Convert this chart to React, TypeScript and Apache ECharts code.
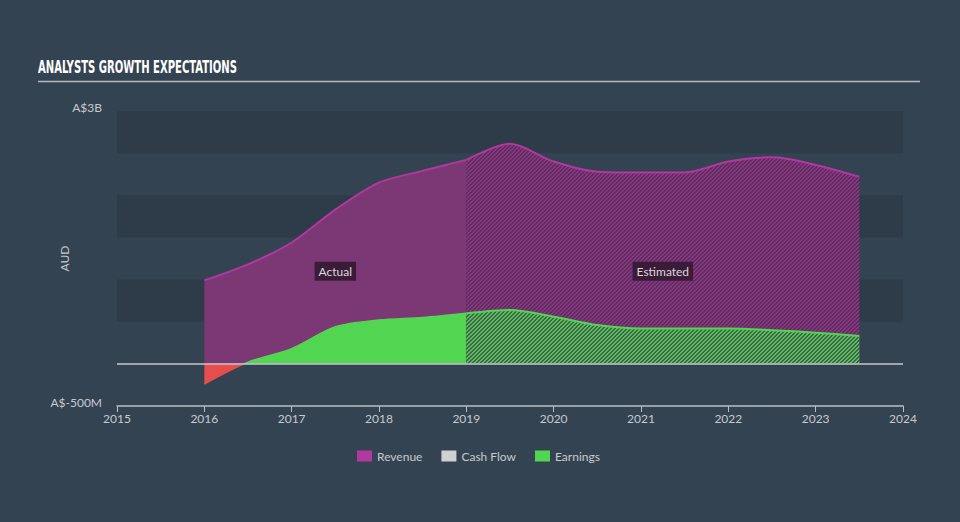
import React, { useEffect, useRef } from "react";
import * as echarts from "echarts";

// ---- data (values in A$ billions) ----
const actualYears = [2016, 2016.5, 2017, 2017.5, 2018, 2018.5, 2019];
const revenueActual = [0.99, 1.18, 1.44, 1.83, 2.15, 2.29, 2.42];
const earningsActual = [-0.24, 0.02, 0.18, 0.44, 0.52, 0.55, 0.6];

const estimateYears = [2019, 2019.5, 2020, 2020.5, 2021, 2021.5, 2022, 2022.5, 2023, 2023.5];
const revenueEstimate = [2.42, 2.61, 2.4, 2.28, 2.27, 2.27, 2.4, 2.45, 2.36, 2.22];
const earningsEstimate = [0.6, 0.64, 0.56, 0.46, 0.42, 0.42, 0.42, 0.4, 0.37, 0.33];

const legendNames = ["Revenue", "Cash Flow", "Earnings"];
const regionLabels = [
  { text: "Actual", year: 2017.5, value: 1.1 },
  { text: "Estimated", year: 2021.25, value: 1.1 },
];
const titleText = "ANALYSTS GROWTH EXPECTATIONS";

const COLORS = {
  bg: "#344352",
  band: "#2e3b49",
  revenueLine: "#b0389f",
  revenueFill: "#7b3874",
  earnings: "#52d652",
  negative: "#e84d4d",
  cashFlow: "#d0d0d0",
  text: "#c5cad0",
  axis: "#b9bfc6",
};

function pairs(xs: number[], ys: number[]) {
  return xs.map((x, i) => [x, ys[i]]);
}

function makePattern(bg: string, fg: string) {
  const c = document.createElement("canvas");
  c.width = 8;
  c.height = 8;
  const ctx = c.getContext("2d")!;
  ctx.fillStyle = bg;
  ctx.fillRect(0, 0, 8, 8);
  ctx.fillStyle = fg;
  for (let x = 0; x < 8; x++) {
    for (let y = 0; y < 8; y++) {
      if ((x + y) % 4 < 2) ctx.fillRect(x, y, 1, 1);
    }
  }
  return c;
}

export default function App() {
  const ref = useRef<HTMLDivElement>(null);
  useEffect(() => {
    document.body.style.margin = "0";
    const chart = echarts.init(ref.current!, null, { renderer: "svg" });

    const titleFont = 'bold 18px "DejaVu Sans Condensed"';
    const mc = document.createElement("canvas").getContext("2d")!;
    mc.font = titleFont;
    const tw = mc.measureText(titleText).width || 300;
    const titleScale = 199 / tw;

    const eMax = Math.max(...earningsActual);
    const eMin = Math.min(...earningsActual);
    const zeroOff = eMax / (eMax - eMin);
    const earnGrad = new echarts.graphic.LinearGradient(0, 0, 0, 1, [
      { offset: 0, color: COLORS.earnings },
      { offset: zeroOff, color: COLORS.earnings },
      { offset: zeroOff, color: COLORS.negative },
      { offset: 1, color: COLORS.negative },
    ]);

    const purplePattern = { image: makePattern("#5c2e5e", "#8a3683"), repeat: "repeat" };
    const greenPattern = { image: makePattern("#436250", "#54c254"), repeat: "repeat" };

    const font = "Lato";

    const option: any = {
      animation: false,
      backgroundColor: COLORS.bg,
      textStyle: { fontFamily: font },
      graphic: [
        {
          type: "text",
          left: 38,
          top: 58,
          scaleX: titleScale,
          style: {
            text: titleText,
            font: titleFont,
            fill: "#ffffff",
          },
        },
        {
          type: "line",
          shape: { x1: 38, y1: 81.5, x2: 920, y2: 81.5 },
          style: { stroke: "#b3b9c1", lineWidth: 1.5 },
        },
      ],
      legend: {
        top: 445,
        left: 352,
        itemWidth: 15,
        itemHeight: 11,
        itemGap: 19,
        icon: "rect",
        textStyle: { color: COLORS.text, fontSize: 12, fontFamily: font },
        data: [
          { name: legendNames[0], itemStyle: { color: COLORS.revenueLine }, lineStyle: { opacity: 0 } },
          { name: legendNames[1], itemStyle: { color: COLORS.cashFlow }, lineStyle: { opacity: 0 } },
          { name: legendNames[2], itemStyle: { color: COLORS.earnings }, lineStyle: { opacity: 0 } },
        ],
      },
      grid: { left: 117, right: 57, top: 111, bottom: 116 },
      xAxis: {
        type: "value",
        min: 2015,
        max: 2024,
        interval: 1,
        axisLine: { onZero: false, lineStyle: { color: COLORS.axis, width: 1.5 } },
        axisTick: { show: true, length: 6, lineStyle: { color: COLORS.axis } },
        axisLabel: { color: COLORS.text, fontSize: 12, margin: 6, formatter: (v: number) => String(v) },
        splitLine: { show: false },
      },
      yAxis: {
        type: "value",
        min: -0.5,
        max: 3,
        interval: 0.5,
        name: "AUD",
        nameLocation: "middle",
        nameGap: 47,
        nameMoveOverlap: false,
        nameTextStyle: { color: COLORS.text, fontSize: 12 },
        axisLine: { show: false },
        axisTick: { show: false },
        splitLine: { show: false },
        splitArea: {
          show: true,
          areaStyle: {
            color: ["transparent", "transparent", COLORS.band, "transparent", COLORS.band, "transparent", COLORS.band],
          },
        },
        axisLabel: {
          color: COLORS.text,
          fontSize: 12,
          margin: 15,
          verticalAlign: "bottom",
          lineHeight: 8,
          formatter: (v: number) => (v === 3 ? "A$3B" : v === -0.5 ? "A$-500M" : ""),
        },
      },
      series: [
        {
          name: "Revenue",
          type: "line",
          data: pairs(actualYears, revenueActual),
          smooth: 0.3,
          symbol: "none",
          itemStyle: { color: COLORS.revenueLine },
          lineStyle: { color: COLORS.revenueLine, width: 2 },
          areaStyle: { color: COLORS.revenueFill, opacity: 1 },
        },
        {
          name: "Revenue",
          type: "line",
          data: pairs(estimateYears, revenueEstimate),
          smooth: 0.3,
          symbol: "none",
          itemStyle: { color: COLORS.revenueLine },
          lineStyle: { color: COLORS.revenueLine, width: 2 },
          areaStyle: { color: purplePattern, opacity: 1 },
        },
        {
          name: "Cash Flow",
          type: "line",
          data: [],
          itemStyle: { color: COLORS.cashFlow },
        },
        {
          name: "Earnings",
          type: "line",
          data: pairs(actualYears, earningsActual),
          smooth: 0.3,
          symbol: "none",
          itemStyle: { color: COLORS.earnings },
          lineStyle: { color: earnGrad, width: 1.5 },
          areaStyle: { color: earnGrad, opacity: 1 },
        },
        {
          name: "Earnings",
          type: "line",
          data: pairs(estimateYears, earningsEstimate),
          smooth: 0.3,
          symbol: "none",
          itemStyle: { color: COLORS.earnings },
          lineStyle: { color: COLORS.earnings, width: 2 },
          areaStyle: { color: greenPattern, opacity: 1 },
          markLine: {
            silent: true,
            symbol: "none",
            label: { show: false },
            lineStyle: { color: "#c3c7cc", width: 1.5, type: "solid" },
            data: [{ yAxis: 0 }],
          },
          markPoint: {
            silent: true,
            symbol: "rect",
            symbolSize: 1,
            itemStyle: { color: "transparent" },
            label: {
              show: true,
              position: "inside",
              color: "#dcd8dc",
              fontSize: 12,
              fontFamily: font,
              backgroundColor: "#3a1c39",
              padding: [4, 4, 3, 4],
              formatter: (p: any) => p.name,
            },
            data: regionLabels.map((r) => ({ name: r.text, coord: [r.year, r.value] })),
          },
        },
      ],
    };
    chart.setOption(option);
    return () => chart.dispose();
  }, []);
  return <div ref={ref} style={{ position: "fixed", left: 0, top: 0, width: 960, height: 522 }} />;
}
